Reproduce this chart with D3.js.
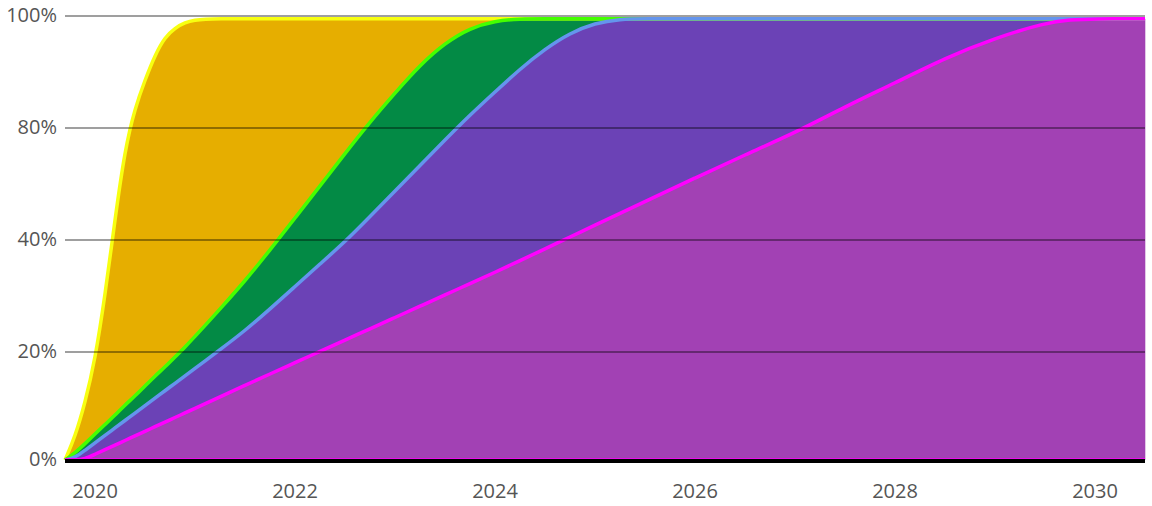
<!DOCTYPE html>
<html>
<head>
<meta charset="utf-8">
<script src="https://cdn.jsdelivr.net/npm/d3@7"></script>
<style>
  html, body { margin: 0; padding: 0; background: #fff; }
  svg { display: block; }
</style>
</head>
<body>
<svg id="chart" width="1152" height="506"></svg>
<script>
// ---------------- data ----------------
const years = [2019.7, 2019.8, 2019.9, 2020.0, 2020.1, 2020.2, 2020.3, 2020.4, 2020.5, 2020.6,
  2020.7, 2020.8, 2020.9, 2021.0, 2021.1, 2021.25, 2021.5, 2021.75, 2022.0, 2022.25,
  2022.5, 2022.75, 2023.0, 2023.25, 2023.5, 2023.75, 2024.0, 2024.25, 2024.5, 2024.75,
  2025.0, 2025.25, 2025.5, 2026.0, 2026.5, 2027.0, 2027.5, 2028.0, 2028.5, 2029.0,
  2029.5, 2029.75, 2030.0, 2030.5];

const magentaSeries = [0, 0, 0.2, 1.06, 1.91, 2.76, 3.61, 4.46, 5.31, 6.17,
  7.02, 7.87, 8.72, 9.57, 10.43, 11.70, 13.83, 15.93, 18.02, 20.11,
  22.13, 24.14, 26.16, 28.18, 30.20, 32.21, 34.23, 36.32, 38.43, 41.07,
  45.29, 49.50, 53.71, 62.14, 70.43, 78.29, 83.79, 88.04, 92.5, 96.07,
  98.75, 99.38, 99.5, 99.5];

const blueSeries = [0, 0.41, 1.60, 2.11, 2.65, 3.17, 3.70, 4.24, 4.76, 5.27,
  5.81, 6.33, 6.87, 7.39, 7.92, 8.71, 9.97, 11.75, 13.68, 15.60,
  17.55, 24.25, 31.34, 38.43, 45.51, 50.11, 52.20, 54.22, 55.68, 55.89,
  53.46, 49.96, 45.79, 37.36, 29.07, 21.21, 15.71, 11.46, 7.0, 3.43,
  0.75, 0.12, 0, 0];

const greenSeries = [0, 0.89, 1.22, 1.64, 2.01, 2.40, 2.88, 3.15, 3.63, 4.12,
  4.39, 4.87, 5.30, 5.81, 6.38, 7.27, 8.88, 10.53, 16.16, 23.58,
  31.21, 32.68, 28.75, 24.64, 19.47, 15.54, 12.68, 8.96, 5.39, 2.54,
  0.75, 0.04, 0, 0, 0, 0, 0, 0, 0, 0,
  0, 0, 0, 0];

const yellowSeries = [0, 2.96, 7.54, 13.71, 23.43, 39.17, 62.31, 71.72, 74.87, 77.48,
  79.03, 78.79, 77.95, 76.52, 74.70, 71.82, 66.82, 61.29, 51.64, 40.21,
  28.61, 18.43, 13.25, 8.25, 4.32, 1.64, 0.39, 0, 0, 0,
  0, 0, 0, 0, 0, 0, 0, 0, 0, 0,
  0, 0, 0, 0];

const seriesKeys = ["magenta", "blue", "green", "yellow"];   // bottom to top
const yTickValues = [0, 20, 40, 80, 100];
const yTickLabels = ["0%", "20%", "40%", "80%", "100%"];
const xTickValues = [2020, 2022, 2024, 2026, 2028, 2030];
const xTickLabels = ["2020", "2022", "2024", "2026", "2028", "2030"];

// ---------------- styles ----------------
const fills   = { magenta: "#a241b4", blue: "#6b42b6", green: "#038a45", yellow: "#e6ae00" };
const strokes = { magenta: "#ff00ff", blue: "#6495ed", green: "#44ff00", yellow: "#f8ff10" };

// ---------------- build table ----------------
const table = years.map((yr, i) => ({
  year: yr,
  magenta: magentaSeries[i],
  blue: blueSeries[i],
  green: greenSeries[i],
  yellow: yellowSeries[i]
}));

const stacked = d3.stack().keys(seriesKeys)(table);

const svg = d3.select("#chart");
const x = d3.scaleLinear().domain([2019.7, 2030.5]).range([65, 1145]);
const y = d3.scaleLinear().domain(yTickValues).range([460, 352, 240, 128, 16]);

const curve = d3.curveBasis;
const area = d3.area()
  .x(d => x(d.data.year))
  .y0(d => y(d[0]))
  .y1(d => y(d[1]))
  .curve(curve);
const topLine = d3.line()
  .x(d => x(d.data.year))
  .y(d => y(d[1]))
  .curve(curve);

const plot = svg.append("g");

// bands
plot.selectAll("path.band")
  .data(stacked)
  .join("path")
  .attr("class", "band")
  .attr("fill", s => fills[s.key])
  .attr("stroke", s => fills[s.key])
  .attr("stroke-width", 0.6)
  .attr("d", area);

// top lines, drawn top layer first so lower layers' lines sit above
plot.selectAll("path.top")
  .data(stacked.slice().reverse())
  .join("path")
  .attr("class", "top")
  .attr("fill", "none")
  .attr("stroke", s => strokes[s.key])
  .attr("stroke-width", 3.5)
  .attr("stroke-linejoin", "round")
  .attr("d", topLine);

// baseline outline of bottom layer
plot.append("path")
  .attr("fill", "none")
  .attr("stroke", strokes.magenta)
  .attr("stroke-width", 3.5)
  .attr("d", d3.line().x(d => x(d.data.year)).y(d => y(d[0])).curve(curve)(stacked[0]));

// gridlines
const grid = svg.append("g");
grid.selectAll("line")
  .data(yTickValues.filter(v => v !== 0))
  .join("line")
  .attr("x1", x(2019.7))
  .attr("x2", x(2030.5))
  .attr("y1", d => y(d))
  .attr("y2", d => y(d))
  .attr("stroke", "#000")
  .attr("stroke-opacity", 0.5)
  .attr("stroke-width", 1.6);

// x axis line
svg.append("line")
  .attr("x1", x(2019.7))
  .attr("x2", x(2030.5))
  .attr("y1", y(0) + 1)
  .attr("y2", y(0) + 1)
  .attr("stroke", "#000")
  .attr("stroke-width", 4);

// y labels
const font = "'Open Sans', 'Noto Sans', sans-serif";
svg.append("g").selectAll("text")
  .data(yTickValues)
  .join("text")
  .attr("x", 57)
  .attr("y", d => y(d) + 1)
  .attr("text-anchor", "end")
  .attr("dominant-baseline", "middle")
  .attr("font-family", font)
  .attr("font-size", 20)
  .attr("fill", "#555")
  .text((d, i) => yTickLabels[i]);

// x labels
svg.append("g").selectAll("text")
  .data(xTickValues)
  .join("text")
  .attr("x", d => x(d))
  .attr("y", 498)
  .attr("text-anchor", "middle")
  .attr("font-family", font)
  .attr("font-size", 20)
  .attr("fill", "#555")
  .text((d, i) => xTickLabels[i]);
</script>
</body>
</html>
